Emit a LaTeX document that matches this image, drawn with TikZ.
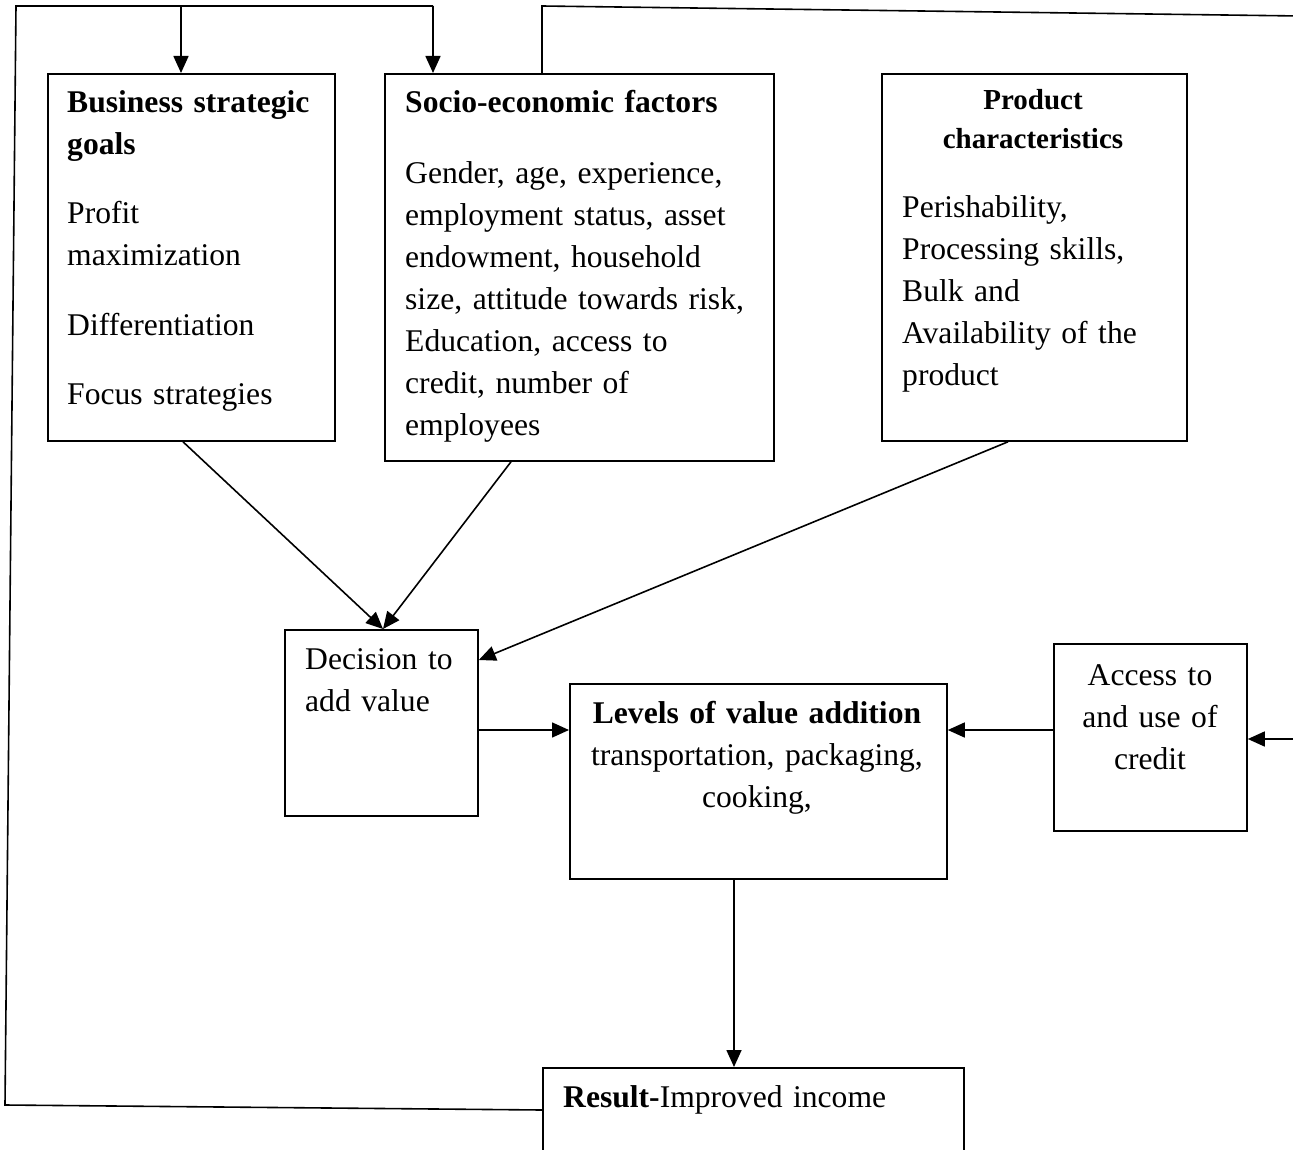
\documentclass[tikz,border=0pt]{standalone}
\usepackage{fontspec}
\setmainfont{Liberation Serif}
\usetikzlibrary{arrows.meta}
\begin{document}
\begin{tikzpicture}[x=1pt,y=-1pt,
  box/.style={draw,line width=1.8pt,inner sep=0pt,anchor=north west},
  conn/.style={line width=1.6pt},
  arr/.style={line width=1.6pt,-{Triangle[length=17pt,width=15pt]}},
  txt/.style={inner sep=0pt,anchor=base west,align=left,text width=#1,font=\fontsize{31.6}{42}\selectfont},
  ctxt/.style={inner sep=0pt,anchor=base,align=center,text width=#1,font=\fontsize{31.6}{42}\selectfont}]
\useasboundingbox (0,0) rectangle (1293,1150);
\clip (0,0) rectangle (1293,1150);
% boxes
\node[box,minimum width=287pt,minimum height=367pt] (bsg) at (47,73) {};
\node[box,minimum width=389pt,minimum height=387pt] (sef) at (384,73) {};
\node[box,minimum width=305pt,minimum height=367pt] (pc) at (881,73) {};
\node[box,minimum width=193pt,minimum height=186pt] (dav) at (284,629) {};
\node[box,minimum width=377pt,minimum height=195pt] (lva) at (569,683) {};
\node[box,minimum width=193pt,minimum height=187pt] (acc) at (1053,643) {};
\node[box,minimum width=421pt,minimum height=150pt] (res) at (542,1067) {};
% texts
\node[txt=260pt] (t1) at (67,113) {\textbf{Business strategic}\\\textbf{goals}};
\node[txt=260pt] (t2) at (67,224) {Profit\\maximization};
\node[txt=260pt] (t3) at (67,335) {Differentiation};
\node[txt=260pt] (t4) at (67,404) {Focus strategies};
\node[txt=360pt] (t5) at (405,113) {\textbf{Socio-economic factors}};
\node[txt=360pt] (t6) at (405,184) {Gender, age, experience,\\employment status, asset\\endowment, household\\size, attitude towards risk,\\Education, access to\\credit, number of\\employees};
\node[ctxt=290pt,font=\fontsize{29}{39}\selectfont\bfseries] (t7) at (1033,110) {Product\\characteristics};
\node[txt=280pt] (t8) at (902,218) {Perishability,\\Processing skills,\\Bulk and\\Availability of the\\product};
\node[txt=180pt] (t9) at (305,669) {Decision to\\add value};
\node[ctxt=370pt] (t10) at (757,723) {\textbf{Levels of value addition}\\transportation, packaging,\\cooking,};
\node[ctxt=190pt] (t11) at (1150,685) {Access to\\and use of\\credit};
\node[txt=400pt] (t12) at (563,1107) {\textbf{Result-}Improved income};
% connectors
\coordinate (lb) at (5,1105);
\coordinate (lt) at (16,6);
\coordinate (rt) at (542,6);
\coordinate (rr) at (1300,16);
\draw[conn] (res.north west |- 0,1110) -- (lb) -- (lt) -- (433,6);
\draw[arr] (181,6) -- (bsg.north west -| 181,0);
\draw[arr] (433,6) -- (sef.north west -| 433,0);
\draw[conn] (sef.north west -| 542,0) -- (rt) -- (rr);
\draw[arr] (rr) -- (1300,739) -- (acc.east |- 0,739);
\draw[arr] (bsg.south west -| 183,0) -- (dav.north west -| 383,0);
\draw[arr] (sef.south west -| 511,0) -- (dav.north west -| 383,0);
\draw[arr] (pc.south west -| 1008,0) -- (dav.north east |- 0,660);
\draw[arr] (dav.north east |- 0,730) -- (lva.north west |- 0,730);
\draw[arr] (acc.north west |- 0,730) -- (lva.north east |- 0,730);
\draw[arr] (lva.south west -| 734,0) -- (res.north west -| 734,0);
\end{tikzpicture}
\end{document}
